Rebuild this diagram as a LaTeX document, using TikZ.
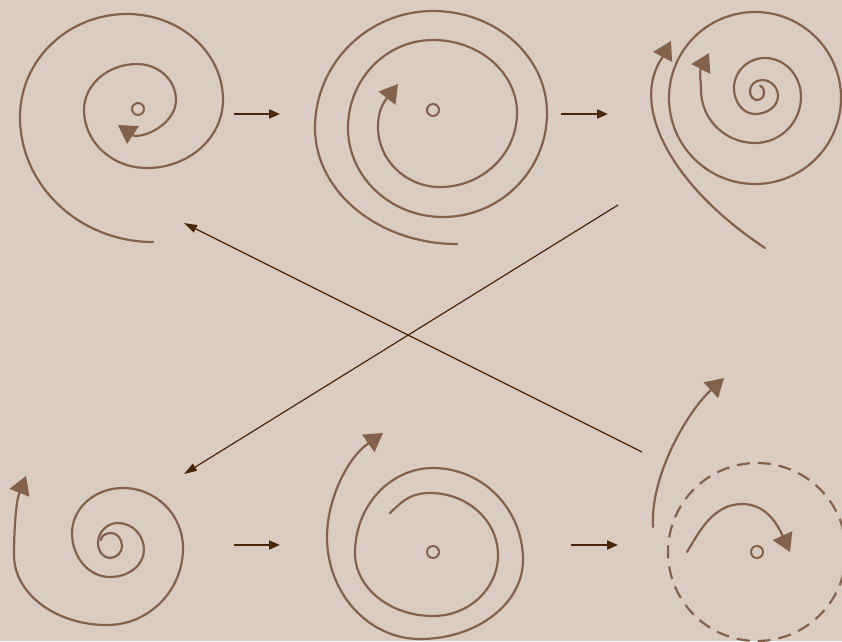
\documentclass[tikz,border=0pt]{standalone}
\usepackage{tikz}
\usetikzlibrary{arrows.meta}
\definecolor{paper}{HTML}{D9CCC3}
\definecolor{curlbrown}{HTML}{84614A}
\definecolor{linkbrown}{HTML}{4A2608}

\begin{document}
\begin{tikzpicture}[x=1pt, y=-1pt,
    curl/.style={draw=curlbrown, line width=2.2pt, line cap=round, line join=round},
    curlarrow/.style={curl, -{Triangle[length=18pt, width=21pt]}},
    hub/.style={circle, draw=curlbrown, line width=2pt, minimum size=12pt, inner sep=0pt},
    link/.style={draw=linkbrown, line width=2pt, -{Triangle[length=11pt, width=9pt]}},
    crosslink/.style={draw=linkbrown, line width=1.2pt, -{Triangle[length=13pt, width=8pt]}}]

    \fill[paper] (0,0) rectangle (842,641);
    \useasboundingbox (0,0) rectangle (842,641);

    % centres
    \node[hub] (hub1) at (138,109) {};
    \node[hub] (hub2) at (433,110) {};
    \node[hub] (hub5) at (433,552) {};
    \node[hub] (hub6) at (757,552) {};

    % ends of the links
    \coordinate (p1out) at (234,114);
    \coordinate (p2in) at (280,114);
    \coordinate (p2out) at (561,114);
    \coordinate (p3in) at (608,114);
    \coordinate (p4out) at (234,545);
    \coordinate (p5in) at (280,545);
    \coordinate (p5out) at (571,545);
    \coordinate (p6in) at (618,545);
    \coordinate (p3down) at (618,205);
    \coordinate (p4up) at (184,474);
    \coordinate (p6up) at (642,452);
    \coordinate (p1down) at (184,223);

    % top left
    \draw[curlarrow] (153,242) .. controls (80,242) and (20,186) .. (20,117)
        .. controls (20,60) and (68,14) .. (127,14)
        .. controls (180,14) and (223,52.5) .. (223,100)
        .. controls (223,137.5) and (189,168) .. (147,168)
        .. controls (112,168) and (84,142) .. (84,110)
        .. controls (84,84.6) and (108,64) .. (137,64)
        .. controls (158.5,64) and (176,80) .. (176,100)
        .. controls (176,120) and (152,136) .. (134.5,136) -- (118,125);

    % top middle
    \draw[curlarrow] (457,244) .. controls (379,244) and (315,192) .. (315,128)
        .. controls (315,63.4) and (368,11) .. (433,11)
        .. controls (496,11) and (547,56.7) .. (547,113)
        .. controls (547,170.4) and (500,217) .. (443,217)
        .. controls (390.6,217) and (348,177) .. (348,128)
        .. controls (348,79.4) and (386,40) .. (433,40)
        .. controls (479.4,40) and (517,72.7) .. (517,113)
        .. controls (517,153.8) and (482.5,187) .. (440,187)
        .. controls (405.8,187) and (378,160) .. (378,127)
        .. controls (378,115) and (381,106) .. (386,99.5) -- (398,84);

    % top right
    \draw[curl] (755,98) circle[radius=86pt];
    \draw[curlarrow] (765,248) .. controls (670,185) and (630,105) .. (662,58) -- (671,41);
    \draw[curlarrow] (760,86) .. controls (762.2,86) and (764,89.1) .. (764,93)
        .. controls (764,96.9) and (760.9,100) .. (757,100)
        .. controls (753.1,100) and (750,96) .. (750,91)
        .. controls (750,84.9) and (755.4,80) .. (762,80)
        .. controls (770.8,80) and (778,87.2) .. (778,96)
        .. controls (778,105.9) and (767.7,114) .. (755,114)
        .. controls (743.4,114) and (734,102.4) .. (734,88)
        .. controls (734,71.4) and (747.9,58) .. (765,58)
        .. controls (784.9,58) and (801,75.5) .. (801,97)
        .. controls (801,122.4) and (780.4,143) .. (755,143)
        .. controls (725.2,143) and (701,119.3) .. (701,90)
        .. controls (701,82) and (699.5,76) .. (700.5,69.5) -- (709,53);

    % bottom left
    \draw[curlarrow] (101,540) .. controls (101,536.1) and (105.5,533) .. (111,533)
        .. controls (117.1,533) and (122,538.8) .. (122,546)
        .. controls (122,552.6) and (116.6,558) .. (110,558)
        .. controls (103.4,558) and (98,551.3) .. (98,543)
        .. controls (98,532) and (107,523) .. (118,523)
        .. controls (132.4,523) and (144,535.1) .. (144,550)
        .. controls (144,564.9) and (128.8,577) .. (110,577)
        .. controls (89,577) and (72,557.3) .. (72,533)
        .. controls (72,508.2) and (94.8,488) .. (123,488)
        .. controls (156.1,488) and (183,514.9) .. (183,548)
        .. controls (183,590.5) and (149,625) .. (107,625)
        .. controls (55.7,625) and (14,593.6) .. (14,555)
        .. controls (14,530) and (16.1,501.4) .. (19,494) -- (26,476);

    % bottom middle
    \draw[curlarrow] (390,513) .. controls (400,504) and (408,493) .. (430,493)
        .. controls (467.5,493) and (498,520.8) .. (498,555)
        .. controls (498,588.7) and (468.9,616) .. (433,616)
        .. controls (390,616) and (355,587.8) .. (355,553)
        .. controls (355,506.1) and (390,468) .. (433,468)
        .. controls (482.7,468) and (523,509.2) .. (523,560)
        .. controls (523,603.6) and (476.9,639) .. (420,639)
        .. controls (368.7,639) and (327,593.3) .. (327,537)
        .. controls (327,500) and (347,458.5) .. (367.5,444) -- (383,433);

    % bottom right
    \draw[curl, line cap=butt, dash pattern=on 13pt off 8pt] (hub6) circle[radius=89pt];
    \draw[curlarrow] (653,527) .. controls (650,475) and (688,411.4) .. (710,391) -- (724,378);
    \draw[curlarrow] (687,552) .. controls (697,536) and (711.6,504) .. (742,504)
        .. controls (764,504) and (775.7,520.9) .. (782,534.5) -- (790,552);

    % links
    \draw[link] (p1out) -- (p2in);
    \draw[link] (p2out) -- (p3in);
    \draw[link] (p4out) -- (p5in);
    \draw[link] (p5out) -- (p6in);
    \draw[crosslink] (p3down) -- (p4up);
    \draw[crosslink] (p6up) -- (p1down);
\end{tikzpicture}
\end{document}
